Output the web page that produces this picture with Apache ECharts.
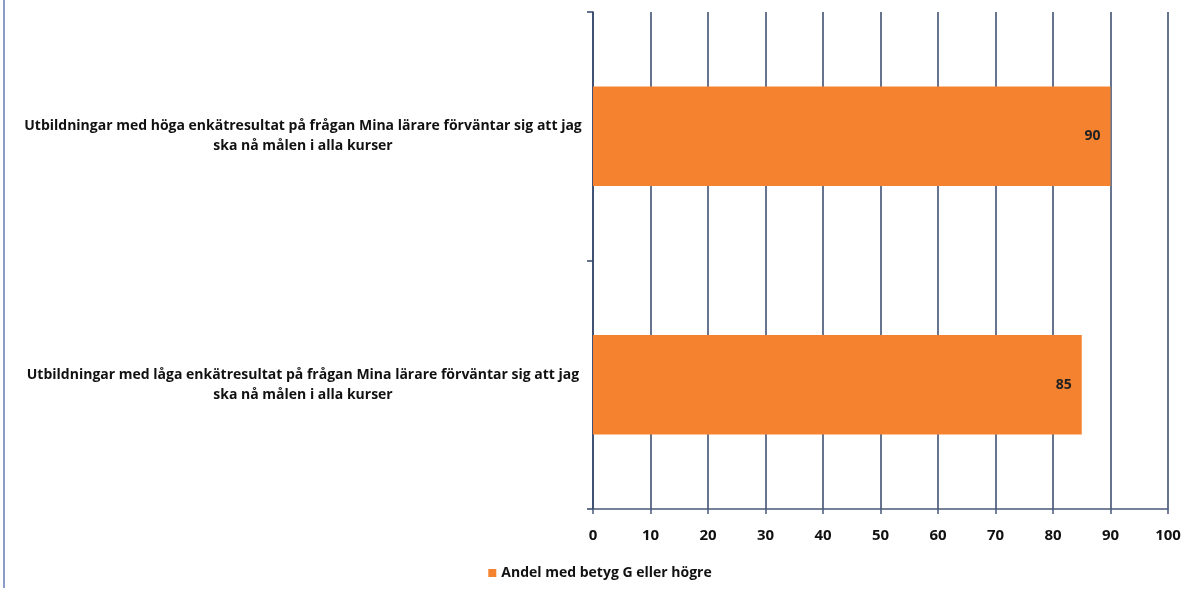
<!DOCTYPE html>
<html>
<head>
<meta charset="utf-8">
<script src="https://cdn.jsdelivr.net/npm/echarts@6/dist/echarts.min.js"></script>
<style>
html,body{margin:0;padding:0;background:#fff;}
#c{width:1200px;height:592px;}
</style>
</head>
<body>
<div id="c"></div>
<script>
var categories = [
  "Utbildningar med låga enkätresultat på frågan Mina lärare förväntar sig att jag ska nå målen i alla kurser",
  "Utbildningar med höga enkätresultat på frågan Mina lärare förväntar sig att jag ska nå målen i alla kurser"
];
var values = [85, 90];
var seriesName = "Andel med betyg G eller högre";
var xTicks = [0, 10, 20, 30, 40, 50, 60, 70, 80, 90, 100];

var FONT = "'Open Sans', Lato, sans-serif";
var chart = echarts.init(document.getElementById('c'), null, {renderer: 'canvas'});
chart.setOption({
  animation: false,
  backgroundColor: '#ffffff',
  graphic: [{
    type: 'line', shape: {x1: 4, y1: 0, x2: 4, y2: 588},
    style: {stroke: '#8d9bc9', lineWidth: 2}
  }],
  grid: {left: 593, right: 32, top: 12, bottom: 83, containLabel: false, outerBoundsMode: 'none'},
  legend: {
    data: [seriesName], bottom: 7, left: 'center',
    itemWidth: 8, itemHeight: 8, itemGap: 5,
    icon: 'rect',
    textStyle: {fontFamily: FONT, fontWeight: 'bold', fontSize: 14, color: '#111'}
  },
  xAxis: {
    type: 'value', min: 0, max: 100, interval: 10,
    axisLine: {show: true, lineStyle: {color: '#4a5a7a', width: 1.5}},
    axisTick: {show: true, length: 5, lineStyle: {color: '#4a5a7a', width: 1.5}},
    splitLine: {show: true, lineStyle: {color: '#34466a', width: 1.5}},
    axisLabel: {
      margin: 19, fontFamily: FONT, fontWeight: 'bold', fontSize: 15, color: '#111',
      formatter: function (v) { return xTicks.indexOf(v) >= 0 ? String(v) : ''; }
    }
  },
  yAxis: {
    type: 'category', data: categories,
    axisLine: {show: true, lineStyle: {color: '#34466a', width: 1.5}},
    axisTick: {show: true, length: 6, lineStyle: {color: '#34466a', width: 1.5}},
    axisLabel: {
      margin: 290, align: 'center', lineHeight: 20,
      fontFamily: FONT, fontWeight: 'bold', fontSize: 14, color: '#111',
      formatter: function (s) { var i = s.indexOf(' ska nå'); return s.slice(0, i) + '\n' + s.slice(i + 1); }
    }
  },
  series: [{
    name: seriesName, type: 'bar', data: values, barWidth: '40%',
    itemStyle: {color: '#f5822f'},
    label: {
      show: true, position: 'insideRight', distance: 10,
      fontFamily: FONT, fontWeight: 'bold', fontSize: 14, color: '#222'
    }
  }]
});
</script>
</body>
</html>
